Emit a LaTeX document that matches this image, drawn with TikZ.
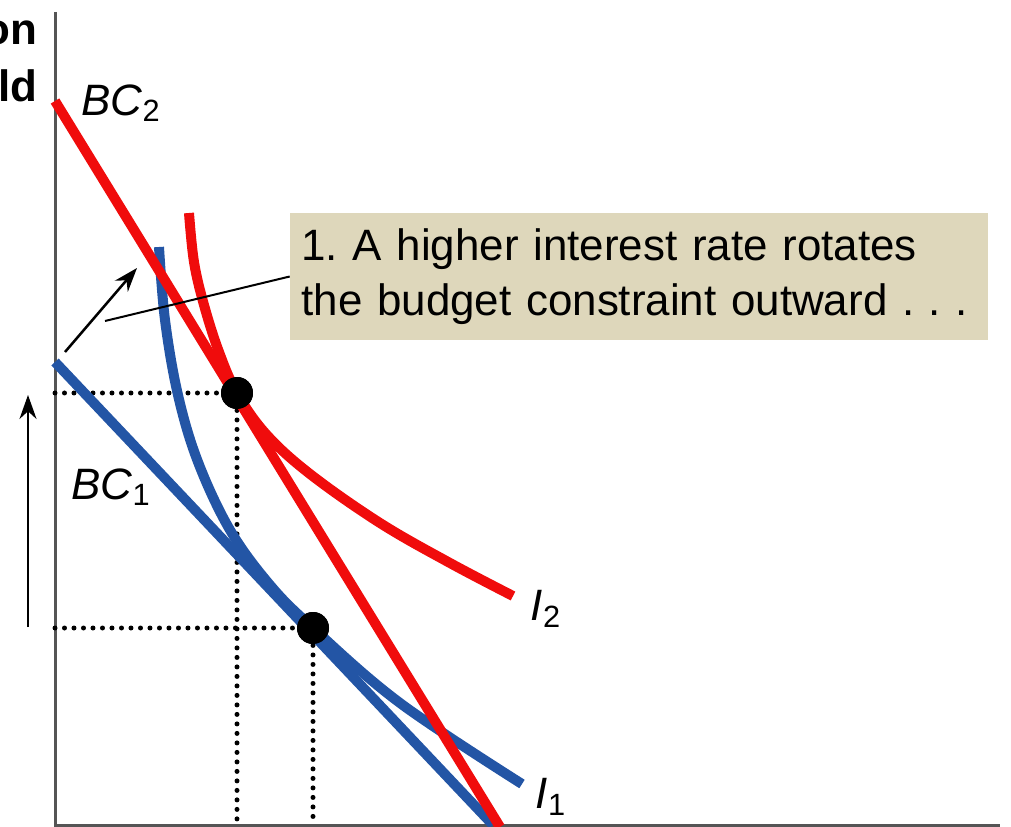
\documentclass[tikz,border=0pt]{standalone}
\usepackage{fontspec}
\setmainfont{Liberation Sans}
\definecolor{ratered}  {RGB}{240,12,12}
\definecolor{rateblue} {RGB}{35,85,165}
\definecolor{notetan}  {RGB}{222,215,187}
\definecolor{axisgray} {RGB}{85,85,85}
\usetikzlibrary{arrows.meta,positioning}
\tikzset{
  axis/.style={line width=0.06cm,draw=axisgray},
  bcline/.style={line width=0.2cm,draw=#1},
  bcline/.default=rateblue,
  icurve/.style={line width=0.2cm,draw=#1},
  icurve/.default=rateblue,
  guide/.style={line width=0.1cm,line cap=round,dash pattern=on 0pt off 0.19cm},
  eqdot/.style={circle,fill=black,minimum size=0.64cm,inner sep=0pt},
  arr/.style={-{Stealth[length=0.48cm,width=0.34cm]},line width=0.05cm},
  note/.style={rectangle,fill=notetan,text width=13.5cm,
               minimum width=13.96cm,minimum height=2.54cm,
               inner xsep=0.23cm,align=left,
               font=\fontsize{25}{31.5}\selectfont\frenchspacing},
  lbl/.style={font=\fontsize{25}{30}\selectfont\itshape},
  ylab/.style={font=\fontsize{25}{30}\selectfont\bfseries,
               anchor=base east,inner sep=0pt},
}
\begin{document}
\begin{tikzpicture}[x=0.02cm,y=-0.02cm]
  \useasboundingbox (0,0) rectangle (1011,827);
  % axes
  \coordinate (top) at (55,12);
  \coordinate (O) at (55,825);
  \coordinate (right) at (1000,825);
  \draw[axis] (top) -- (O) -- (right);
  \node[ylab] (ylabA) at (38,45) {on};
  \node[ylab] (ylabB) at (38,102) {ld};
  % optimum points
  \node[eqdot] (E2) at (237,393) {};
  \node[eqdot] (E1) at (313,628) {};
  \draw[guide] (E2 -| O) -- (E2.center) -- (E2 |- O);
  \draw[guide] (E1 -| O) -- (E1.center) -- (E1 |- O);
  % budget constraints and indifference curves
  \coordinate (bc1top) at (55,362);
  \coordinate (bc1bot) at (493,825);
  \coordinate (bc2top) at (55,101);
  \coordinate (bc2bot) at (500,827);
  \draw[bcline] (bc1top) -- (bc1bot);
  \draw[icurve] plot[smooth,tension=0.6] coordinates
    {(159,247) (165,320) (178,395) (198,462) (230,530) (270,585)
     (313,628) (400,703) (522,784)};
  \draw[bcline=ratered] (bc2top) -- (bc2bot);
  \draw[icurve=ratered] plot[smooth,tension=0.6] coordinates
    {(189,213) (194,262) (204,305) (219,352) (237,393) (266,434)
     (310,474) (380,523) (450,563) (513,596)};
  \node[eqdot] at (E2) {};
  \node[eqdot] at (E1) {};
  \node[lbl] (bc2lab) at (121,103) {BC\textsubscript{\upshape 2}};
  \node[lbl] (bc1lab) at (111,487) {BC\textsubscript{\upshape 1}};
  \node[lbl] (i2lab) at (546,609) {I\textsubscript{\upshape 2}};
  \node[lbl] (i1lab) at (551,797) {I\textsubscript{\upshape 1}};
  % arrows
  \coordinate (rotS) at (65,352);
  \coordinate (rotE) at (137,268);
  \draw[arr] (rotS) -- (rotE);
  \coordinate (upS) at (28,627);
  \coordinate (upE) at (28,395);
  \draw[arr] (upS) -- (upE);
  % note
  \node[note] (note) at (639,276.5)
    {1. A higher interest rate rotates\\the budget constraint outward~.~.~.};
  \coordinate (ptr) at (105,321);
  \draw[line width=0.04cm] (note.west) -- (ptr);
\end{tikzpicture}
\end{document}
